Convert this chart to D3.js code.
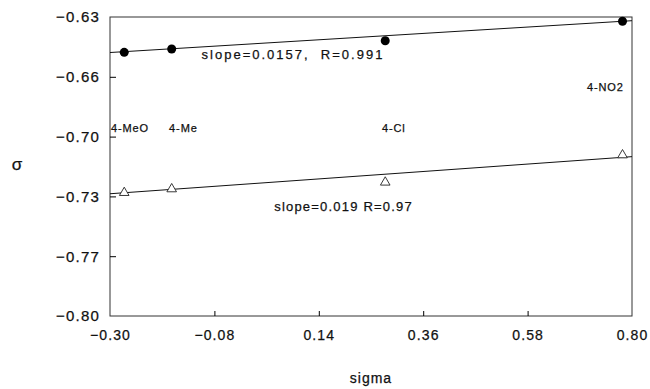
<!DOCTYPE html>
<html>
<head>
<meta charset="utf-8">
<script src="https://cdn.jsdelivr.net/npm/d3@7"></script>
<style>
  body { margin: 0; background: #fff; }
  text { font-family: "Liberation Sans", Arial, sans-serif; fill: #111; stroke: #111; stroke-width: 0.25px; }
</style>
</head>
<body>
<div id="chart"></div>
<script>
// substituents and their sigma constants
var substituents = ["4-MeO", "4-Me", "4-Cl", "4-NO2"];
var sigmaValues = [-0.27, -0.17, 0.28, 0.78];

// rho values: filled circles and open triangles
var rhoCircle = [-0.6501, -0.6482, -0.6435, -0.6324];
var rhoTriangle = [-0.7299, -0.7278, -0.7240, -0.7085];

// fitted lines (end points as drawn)
var fitCircleX = [-0.30, 0.80];
var fitCircleY = [-0.6502, -0.6321];
var fitTriangleX = [-0.30, 0.80];
var fitTriangleY = [-0.7305, -0.7094];

// axis ticks
var xTickValues = [-0.30, -0.08, 0.14, 0.36, 0.58, 0.80];
var yTickValues = [-0.80, -0.766, -0.732, -0.698, -0.664, -0.63];

(function () {
  var width = 650, height = 389;
  var padLeft = 110, padRight = 18, padTop = 17, padBottom = 73;
  var w = width - padLeft - padRight;
  var h = height - padTop - padBottom;

  var svg = d3.select("#chart").append("svg")
    .attr("width", width)
    .attr("height", height);

  var x = d3.scaleLinear().domain([-0.30, 0.80]).range([0, w]);
  var y = d3.scaleLinear().domain([-0.80, -0.63]).range([h, 0]);

  var g = svg.append("g")
    .attr("transform", "translate(" + padLeft + "," + padTop + ")");

  // frame
  g.append("rect")
    .attr("x", 0).attr("y", 0)
    .attr("width", w).attr("height", h)
    .attr("fill", "none")
    .attr("stroke", "#333")
    .attr("stroke-width", 1);

  // x axis: ticks point inward
  var xAxis = d3.axisBottom(x)
    .tickValues(xTickValues)
    .tickSizeInner(-5).tickSizeOuter(0)
    .tickPadding(14)
    .tickFormat(d3.format(".2f"));
  var xg = g.append("g").attr("transform", "translate(0," + h + ")").call(xAxis);
  xg.select(".domain").remove();
  xg.selectAll("text")
    .style("font-size", "14px")
    .style("letter-spacing", "1.1px")
    .attr("fill", "#111");

  // y axis
  var yAxis = d3.axisLeft(y)
    .tickValues(yTickValues)
    .tickSizeInner(-6).tickSizeOuter(0)
    .tickPadding(10)
    .tickFormat(d3.format(".2f"));
  var yg = g.append("g").call(yAxis);
  yg.select(".domain").remove();
  yg.selectAll("text")
    .style("font-size", "15px")
    .style("letter-spacing", "1.2px")
    .attr("fill", "#111");
  // end ticks sit on the frame; hide them
  xg.selectAll(".tick line").filter(function (d, i) { return i === 0 || i === xTickValues.length - 1; }).remove();
  yg.selectAll(".tick line").filter(function (d, i) { return i === 0 || i === yTickValues.length - 1; }).remove();

  // fit lines
  var line = d3.line().x(function (d) { return x(d[0]); }).y(function (d) { return y(d[1]); });
  g.append("path")
    .datum(d3.zip(fitCircleX, fitCircleY))
    .attr("d", line)
    .attr("fill", "none").attr("stroke", "#111").attr("stroke-width", 1);
  g.append("path")
    .datum(d3.zip(fitTriangleX, fitTriangleY))
    .attr("d", line)
    .attr("fill", "none").attr("stroke", "#111").attr("stroke-width", 1);

  // filled circles
  g.selectAll(".dot")
    .data(d3.zip(sigmaValues, rhoCircle))
    .enter().append("circle")
    .attr("class", "dot")
    .attr("cx", function (d) { return x(d[0]); })
    .attr("cy", function (d) { return y(d[1]); })
    .attr("r", 4.5)
    .attr("fill", "#000");

  // open triangles
  var tri = d3.symbol().type(d3.symbolTriangle).size(40);
  g.selectAll(".tri")
    .data(d3.zip(sigmaValues, rhoTriangle))
    .enter().append("path")
    .attr("class", "tri")
    .attr("d", tri)
    .attr("transform", function (d) { return "translate(" + x(d[0]) + "," + y(d[1]) + ")"; })
    .attr("fill", "#fff")
    .attr("stroke", "#222")
    .attr("stroke-width", 0.9);

  // substituent labels
  var labelPos = [
    { x: -0.298, y: -0.6954 },
    { x: -0.1755, y: -0.6954 },
    { x: 0.273, y: -0.6954 },
    { x: 0.705, y: -0.6721 }
  ];
  g.selectAll(".sub-label")
    .data(substituents)
    .enter().append("text")
    .attr("class", "sub-label")
    .attr("x", function (d, i) { return x(labelPos[i].x); })
    .attr("y", function (d, i) { return y(labelPos[i].y); })
    .style("font-size", "11px")
    .style("letter-spacing", "0.9px")
    .text(function (d) { return d; });

  // regression annotations
  g.append("text")
    .attr("x", x(-0.107)).attr("y", y(-0.6538))
    .style("font-size", "13px")
    .style("letter-spacing", "2px")
    .style("white-space", "pre")
    .text("slope=0.0157,  R=0.991");
  g.append("text")
    .attr("x", x(0.046)).attr("y", y(-0.7405))
    .style("font-size", "13px")
    .style("letter-spacing", "1.2px")
    .style("white-space", "pre")
    .text("slope=0.019 R=0.97");

  // axis titles
  svg.append("text")
    .attr("x", padLeft + x(0.25)).attr("y", 383)
    .attr("text-anchor", "middle")
    .style("font-size", "14px")
    .style("letter-spacing", "1px")
    .text("sigma");
  svg.append("text")
    .attr("x", 17).attr("y", 170)
    .attr("text-anchor", "middle")
    .style("font-size", "17px")
    .text("σ");
})();
</script>
</body>
</html>
